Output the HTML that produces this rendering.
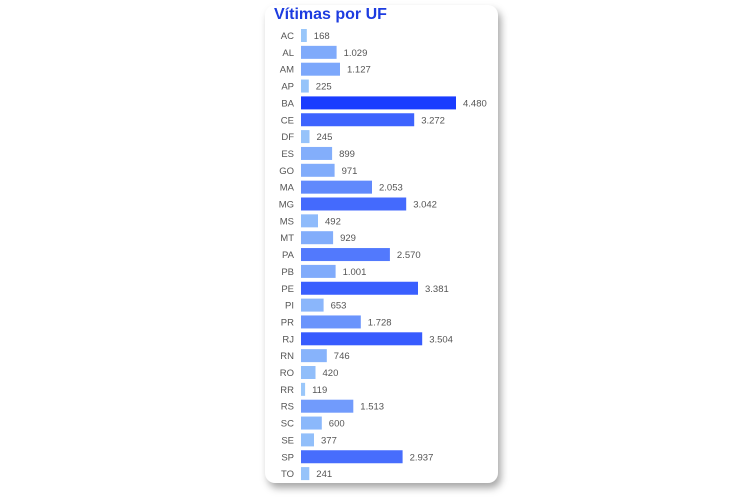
<!DOCTYPE html>
<html><head><meta charset="utf-8"><style>
html,body{margin:0;padding:0;background:#fff;width:754px;height:497px;overflow:hidden;font-family:"Liberation Sans",sans-serif}
.card{position:absolute;left:265px;top:5px;width:233px;height:478px;background:#fff;border-radius:10px;box-shadow:3px 5px 8px rgba(0,0,0,0.35)}
.t{position:absolute;left:274px;top:6px;font-size:16px;font-weight:bold;color:#1d3ce0}
svg{position:absolute;left:0;top:0}
</style></head><body>
<div class="card"></div>
<div class="t">Vítimas por UF</div>
<svg id="s" width="754" height="497" font-family="Liberation Sans, sans-serif" font-size="9.5"></svg>
<script>
var d=[["AC",168],["AL",1029],["AM",1127],["AP",225],["BA",4480],["CE",3272],["DF",245],["ES",899],["GO",971],["MA",2053],["MG",3042],["MS",492],["MT",929],["PA",2570],["PB",1001],["PE",3381],["PI",653],["PR",1728],["RJ",3504],["RN",746],["RO",420],["RR",119],["RS",1513],["SC",600],["SE",377],["SP",2937],["TO",241]];
var h="";
d.forEach(function(r,i){
 var c=35.5+i*16.85, w=r[1]*155/4480, f=r[1]/4480;
 var R=Math.round(157+(26-157)*f),G=Math.round(203+(60-203)*f),B=Math.round(250+(255-250)*f);
 h+='<text x="294" y="'+(c+3.5)+'" text-anchor="end" fill="#555">'+r[0]+'</text>';
 h+='<rect x="301" y="'+(c-6.5)+'" width="'+w.toFixed(1)+'" height="13" fill="rgb('+R+','+G+','+B+')"/>';
 h+='<text x="'+(301+w+7).toFixed(1)+'" y="'+(c+3.5)+'" fill="#555">'+r[1].toLocaleString("de-DE")+'</text>';
});
document.getElementById("s").innerHTML=h;
</script>
</body></html>
